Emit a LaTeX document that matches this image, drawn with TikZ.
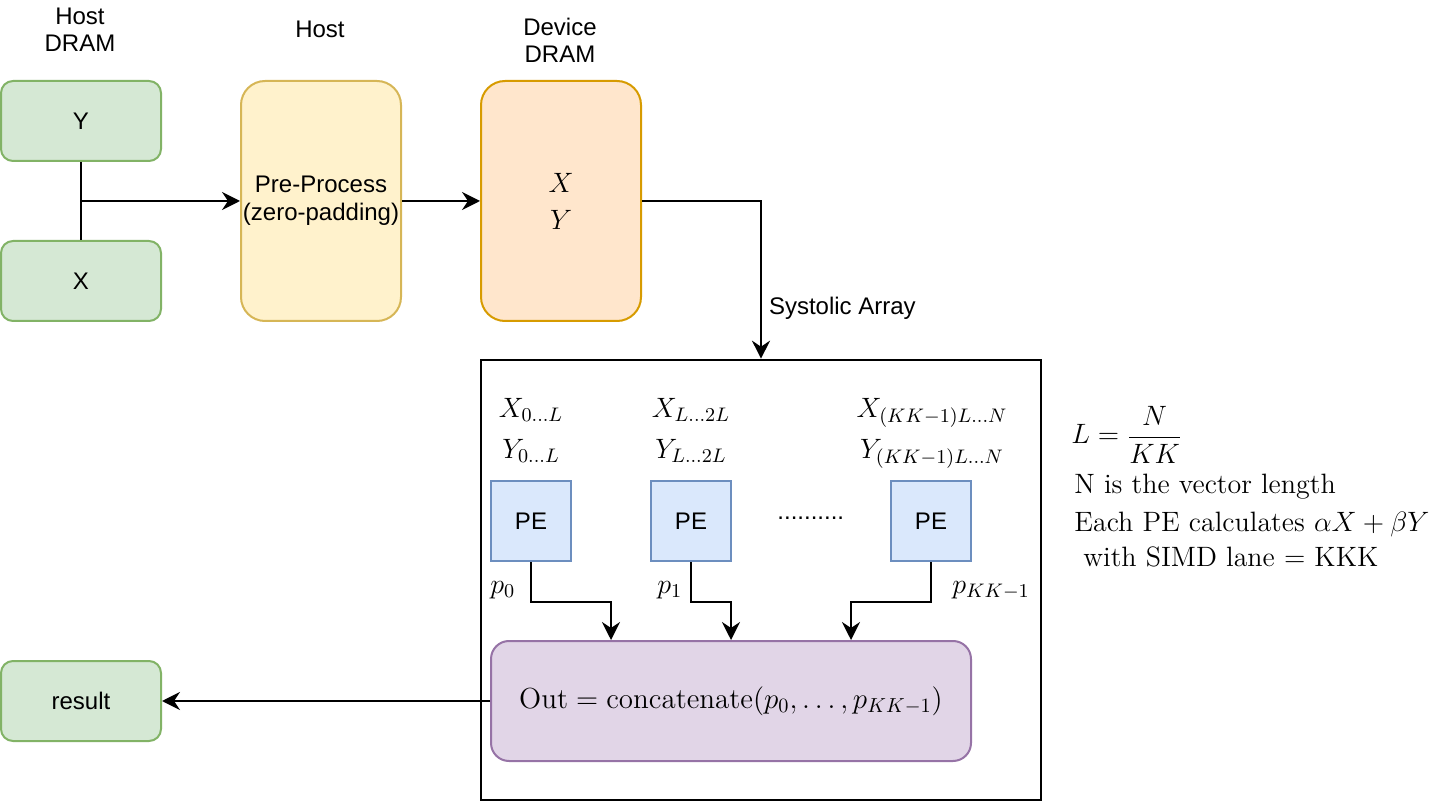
\RequirePackage{fix-cm}
\documentclass[tikz,border=0pt]{standalone}
\usepackage{fontspec}
\newfontfamily\helv{Liberation Sans}
\usetikzlibrary{positioning,arrows.meta}

\definecolor{memfill}{HTML}{D5E8D4}
\definecolor{memline}{HTML}{82B366}
\definecolor{prefill}{HTML}{FFF2CC}
\definecolor{preline}{HTML}{D6B656}
\definecolor{devfill}{HTML}{FFE6CC}
\definecolor{devline}{HTML}{D79B00}
\definecolor{pefill}{HTML}{DAE8FC}
\definecolor{peline}{HTML}{6C8EBF}
\definecolor{outfill}{HTML}{E1D5E7}
\definecolor{outline}{HTML}{9673A6}

\begin{document}
\begin{tikzpicture}[x=0.5pt,y=-0.5pt,
    box/.style={draw, line width=1pt, inner sep=0pt, align=center,
        font=\helv\fontsize{12}{14}\selectfont},
    membox/.style={box, draw=memline, fill=memfill, rounded corners=6pt,
        minimum width=80pt, minimum height=40pt},
    prebox/.style={box, draw=preline, fill=prefill, rounded corners=12pt,
        minimum width=80pt, minimum height=120pt},
    devbox/.style={box, draw=devline, fill=devfill, rounded corners=12pt,
        minimum width=80pt, minimum height=120pt,
        font=\fontsize{14}{18.5}\selectfont},
    pebox/.style={box, draw=peline, fill=pefill,
        minimum width=40pt, minimum height=40pt},
    outbox/.style={box, draw=outline, fill=outfill, rounded corners=9pt,
        minimum width=240pt, minimum height=60pt,
        font=\fontsize{14.5}{17}\selectfont},
    arraybox/.style={draw, line width=1.3pt, inner sep=0pt,
        minimum width=280pt, minimum height=220pt},
    caption/.style={align=center, font=\helv\fontsize{12}{13.5}\selectfont},
    slice/.style={align=center, inner sep=0pt, anchor=north,
        font=\fontsize{14}{20.5}\selectfont},
    partial/.style={inner sep=0pt, anchor=base west,
        font=\fontsize{14}{17}\selectfont},
    note/.style={inner sep=0pt, anchor=base west,
        font=\fontsize{14}{17}\selectfont},
    conn/.style={line width=1pt, -{Stealth[length=9pt,width=9pt,inset=3pt]}},
    wire/.style={line width=1pt}]

    \useasboundingbox (0,0) rectangle (1442,802);

    \node[caption] (hostdram) at (80,30) {Host\\DRAM};
    \node[caption] (host) at (320,29) {Host};
    \node[caption] (devdram) at (560,40) {Device\\DRAM};

    \node[membox] (ymem) at (81,121) {Y};
    \node[membox] (xmem) at (81,281) {X};
    \coordinate (join) at (81,201);

    \node[prebox] (pre) at (321,201) {Pre-Process\\(zero-padding)};
    \node[devbox] (dev) at (561,201) {$X$\\$Y$};

    \draw[wire] (ymem.south) -- (xmem.north);
    \draw[conn] (join) -- (pre.west);
    \draw[conn] (pre.east) -- (dev.west);

    \node[arraybox] (systolic) at (761,580) {};
    \draw[conn] (dev.east) -| node[pos=0.86, anchor=base west, xshift=3.5pt, inner sep=0pt,
        font=\helv\fontsize{12}{14}\selectfont] (sysarr) {Systolic Array} (systolic.north);

    \node[slice] (slice1) at (531,398) {$X_{0\ldots L}$\\$Y_{0\ldots L}$};
    \node[slice] (slice2) at (691,398) {$X_{L\ldots 2L}$\\$Y_{L\ldots 2L}$};
    \node[slice] (slice3) at (932,398) {$X_{(KK-1)L\ldots N}$\\$Y_{(KK-1)L\ldots N}$};

    \node[pebox] (pe1) at (531,521) {PE};
    \node[pebox] (pe2) at (691,521) {PE};
    \node[pebox] (pe3) at (931,521) {PE};
    \node[inner sep=0pt, anchor=base west, font=\helv\fontsize{12}{14}\selectfont]
        (gap) at (777,519) {..........};

    \node[outbox] (out) at (731,701) {$\mathrm{Out} = \mathrm{concatenate}(p_0, \ldots, p_{KK-1})$};

    \draw[conn] (pe1.south) -- ++(0,40) -| ([xshift=-60pt]out.north);
    \draw[conn] (pe2.south) -- ++(0,40) -| (out.north);
    \draw[conn] (pe3.south) -- ++(0,40) -| ([xshift=60pt]out.north);

    \node[partial] (p0) at (490,593) {$p_0$};
    \node[partial] (p1) at (657,593) {$p_1$};
    \node[partial] (plast) at (952,593) {$p_{KK-1}$};

    \node[membox] (result) at (81,701) {result};
    \draw[conn] (out.west) -- (result.east);

    \node[note] (lsize) at (1071,444) {$\displaystyle L = \frac{N}{KK}$};
    \node[note] (nlen) at (1074,494) {N is the vector length};
    \node[note] (pecalc) at (1074,531) {Each PE calculates $\alpha X + \beta Y$};
    \node[note] (simd) at (1083,567) {with SIMD lane $=$ KKK};
\end{tikzpicture}
\end{document}
